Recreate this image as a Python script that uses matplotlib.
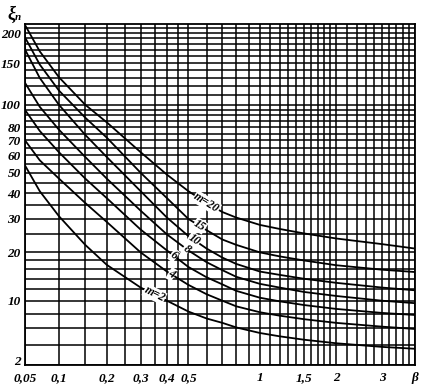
import numpy as np
import matplotlib.pyplot as plt

# nomogram: xi_n against beta for several m
beta = [0.05, 0.07, 0.1, 0.15, 0.2, 0.3, 0.4, 0.5, 0.6, 0.7, 0.8, 1.0, 1.2, 1.5, 2.0, 3.0, 4.0]
xi_m20 = [216, 168, 131, 100, 84, 62, 49, 41, 36, 32.5, 30.5, 28, 26.7, 25.3, 23.8, 22.2, 21]
xi_m15 = [192, 148, 115, 88, 72, 50, 38, 30, 26.3, 23.5, 22, 20, 19, 18, 16.9, 15.9, 15.4]
xi_m10 = [171, 130, 100, 74, 59, 41, 30.5, 24.5, 21, 18.7, 17.2, 15.5, 14.8, 14, 13.2, 12.3, 11.8]
xi_m8 = [124, 98, 78, 59, 47, 33, 25, 20.5, 17.6, 15.8, 14.4, 13, 12.3, 11.5, 10.8, 10, 9.6]
xi_m6 = [95, 77, 62, 47, 38, 26.5, 20.5, 16.5, 14.3, 12.9, 11.7, 10.5, 9.9, 9.3, 8.7, 8.1, 7.8]
xi_m4 = [70, 57, 47, 36, 29, 20, 15.5, 12.8, 11.1, 10, 9.1, 8.2, 7.7, 7.2, 6.7, 6.2, 5.9]
xi_m2 = [54, 41, 31, 22, 17, 12.3, 10, 8.3, 7.3, 6.7, 6.1, 5.4, 5.0, 4.6, 4.2, 3.8, 3.6]
curve_labels = ["m=20", "15", "10", "8", "6", "4", "m=2"]
label_beta = [0.6, 0.56, 0.53, 0.49, 0.43, 0.42, 0.35]

x_ticks = [0.05, 0.1, 0.2, 0.3, 0.4, 0.5, 1, 1.5, 2, 3, 4]
x_tick_labels = ["0,05", "0,1", "0,2", "0,3", "0,4", "0,5", "1", "1,5", "2", "3", "β"]
y_ticks = [2, 10, 20, 30, 40, 50, 60, 70, 80, 100, 150, 200]
y_grid = (list(range(2, 20, 2)) + list(range(20, 100, 5)) + list(range(100, 220, 10)))
x_grid = ([0.05, 0.1, 0.15, 0.2, 0.25, 0.3, 0.35, 0.4, 0.45, 0.5]
          + list(np.round(np.arange(0.6, 2.0, 0.1), 2))
          + list(np.round(np.arange(2.0, 4.01, 0.2), 2)))

curves = [xi_m20, xi_m15, xi_m10, xi_m8, xi_m6, xi_m4, xi_m2]

serif = "Liberation Serif"


def fwd_x(v):
    return np.log10(np.asarray(v) + 0.1)


fig = plt.figure(figsize=(4.24, 3.92), dpi=100)
ax = fig.add_axes([25 / 424, 27 / 392, 390 / 424, 341 / 392])

ax.set_xscale("function", functions=(fwd_x, lambda v: 10 ** np.asarray(v) - 0.1))
ax.set_yscale("function", functions=(lambda v: np.log10(np.asarray(v) + 8),
                                     lambda v: 10 ** np.asarray(v) - 8))
ax.set_xlim(0.05, 4.0)
ax.set_ylim(2, 218)

for g in x_grid:
    ax.axvline(g, color="black", lw=1.1, zorder=1)
for g in y_grid:
    ax.axhline(g, color="black", lw=1.1, zorder=1)

for ys in curves:
    ax.plot(beta, ys, color="black", lw=1.3, zorder=3)

# inline labels sitting on the curves
fig.canvas.draw()
bx = fwd_x(beta)
for ys, lab, b in zip(curves, curve_labels, label_beta):
    yv = np.interp(fwd_x(b), bx, ys)
    p1 = ax.transData.transform((b * 0.95, np.interp(fwd_x(b * 0.95), bx, ys)))
    p2 = ax.transData.transform((b * 1.05, np.interp(fwd_x(b * 1.05), bx, ys)))
    ang = np.degrees(np.arctan2(p2[1] - p1[1], p2[0] - p1[0]))
    ax.text(b, yv, lab, rotation=ang, ha="center", va="center", fontsize=8.5,
            family=serif, style="italic", fontweight="bold", zorder=4,
            bbox=dict(facecolor="white", edgecolor="none", pad=0.3))

ax.set_xticks(x_ticks)
ax.set_xticklabels(x_tick_labels)
ax.set_yticks(y_ticks)
ax.set_yticklabels([str(v) for v in y_ticks])
ax.minorticks_off()
ax.tick_params(axis="x", length=0, pad=5)
ax.tick_params(axis="y", length=0, pad=3)
for lab in ax.get_xticklabels() + ax.get_yticklabels():
    lab.set_family(serif)
    lab.set_style("italic")
    lab.set_fontweight("bold")
    lab.set_fontsize(9.5)
ax.get_yticklabels()[0].set_verticalalignment("baseline")
for s in ax.spines.values():
    s.set_linewidth(1.3)

fig.text(7 / 424, 1 - 14 / 392, "ξ", fontsize=13, family=serif, style="italic",
         fontweight="bold", ha="left", va="center")
fig.text(15 / 424, 1 - 18 / 392, "n", fontsize=8, family=serif, style="italic",
         fontweight="bold", ha="left", va="center")

fig.savefig("out.png", dpi=100)
